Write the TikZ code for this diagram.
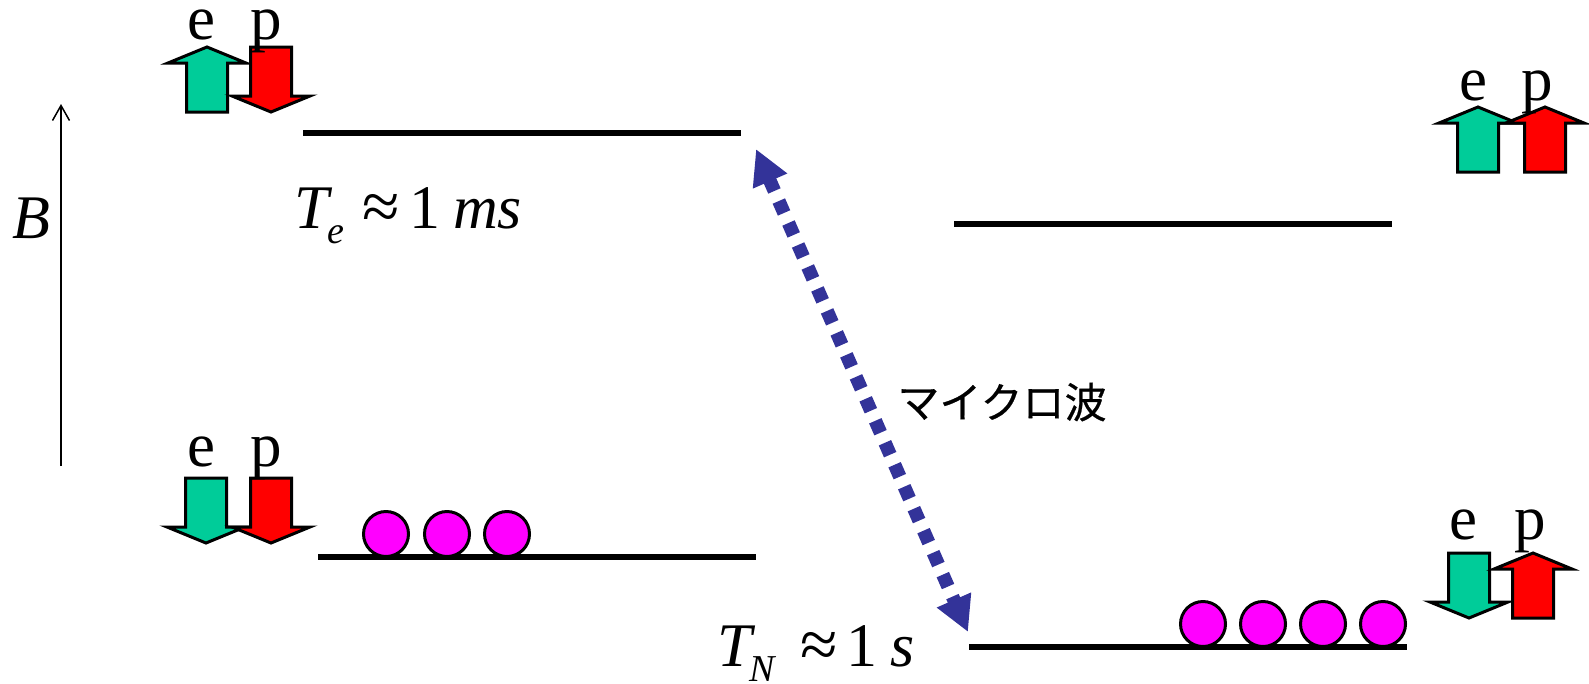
\documentclass[tikz,border=0pt]{standalone}
\usepackage{fontspec}
\setmainfont{Liberation Serif}
\newfontfamily\cjk[FakeBold=0.5]{Noto Sans CJK JP}
\usetikzlibrary{arrows.meta}
\definecolor{spingreen}{HTML}{00CC99}
\definecolor{spinred}{HTML}{FF0000}
\definecolor{dotmag}{HTML}{FF00FF}
\definecolor{waveblue}{HTML}{333399}
\newcommand{\spinup}[3]{\draw[spinarrow,fill=#3] (#1,#2) -- ++(39,16) -- ++(-18.5,0) -- ++(0,49) -- ++(-41,0) -- ++(0,-49) -- ++(-18.5,0) -- cycle;}
\newcommand{\spindown}[3]{\draw[spinarrow,fill=#3] (#1,#2+65) -- ++(39,-16) -- ++(-18.5,0) -- ++(0,-49) -- ++(-41,0) -- ++(0,49) -- ++(-18.5,0) -- cycle;}
\tikzset{
  x=1pt,y=-1pt,
  spinarrow/.style={draw=black,line width=3pt,miter limit=10},
  spinlabel/.style={anchor=base,inner sep=0pt,font=\fontsize{63}{63}\selectfont},
  level/.style={line width=5.5pt},
  ball/.style={circle,draw=black,line width=3pt,fill=dotmag,minimum size=45pt,inner sep=0pt},
  formula/.style={anchor=base west,inner sep=0pt,font=\fontsize{62}{62}\selectfont},
  formulait/.style={formula,font=\fontsize{62}{62}\selectfont\itshape},
  approxsign/.style={anchor=base west,inner sep=0pt,font=\fontsize{68}{68}\selectfont},
  subscript/.style={anchor=base west,inner sep=0pt,font=\fontsize{38}{38}\selectfont\itshape},
}
\begin{document}
\begin{tikzpicture}
\useasboundingbox (0,0) rectangle (1589,683);
% spin arrows
\spinup{207}{47}{spingreen}
\spindown{271}{47}{spinred}
\spinup{1478}{107}{spingreen}
\spinup{1545}{107}{spinred}
\spindown{206}{478}{spingreen}
\spindown{271}{478}{spinred}
\spindown{1469}{553}{spingreen}
\spinup{1533}{553}{spinred}
% spin labels
\node[spinlabel] (e1) at (201,39) {e};
\node[spinlabel] (p1) at (266,39) {p};
\node[spinlabel] (e2) at (1473,100) {e};
\node[spinlabel] (p2) at (1537,100) {p};
\node[spinlabel] (e3) at (201,466) {e};
\node[spinlabel] (p3) at (266,466) {p};
\node[spinlabel] (e4) at (1463,539) {e};
\node[spinlabel] (p4) at (1530,539) {p};
% levels
\coordinate (a1) at (303,133); \coordinate (a2) at (741,133);
\coordinate (b1) at (954,224); \coordinate (b2) at (1392,224);
\coordinate (c1) at (318,557); \coordinate (c2) at (756,557);
\coordinate (d1) at (969,647); \coordinate (d2) at (1407,647);
\draw[level] (a1) -- (a2);
\draw[level] (b1) -- (b2);
\draw[level] (c1) -- (c2);
\draw[level] (d1) -- (d2);
% balls
\node[ball] (n1) at (386,534) {};
\node[ball] (n2) at (447,534) {};
\node[ball] (n3) at (507,534) {};
\node[ball] (m1) at (1203,624) {};
\node[ball] (m2) at (1263,624) {};
\node[ball] (m3) at (1323,624) {};
\node[ball] (m4) at (1383,624) {};
% B axis
\coordinate (bs) at (61,466); \coordinate (be) at (61,104);
\draw[line width=1.5pt,-{Straight Barb[length=15pt,width=17pt,line width=1.5pt]}] (bs) -- (be);
\node[formulait] (B) at (12,238) {B};
% microwave arrow
\coordinate (w1) at (756,149); \coordinate (w2) at (968,632);
\draw[waveblue,line width=13.5pt,dash pattern=on 13pt off 11pt,
  {Triangle[length=35pt,width=35pt,fill=waveblue]}-{Triangle[length=35pt,width=35pt,fill=waveblue]}] (w1) -- (w2);
\node[anchor=center,inner sep=0pt,font=\cjk\fontsize{42}{42}\selectfont] (mw) at (1002,402) {マイクロ波};
% formulas
\node[formulait] (t1) at (294,228) {T};
\node[subscript] (t1s) at (327,243) {e};
\node[approxsign] (t1a) at (362,229) {≈};
\node[formula] (t1b) at (409,228) {1};
\node[formulait] (t1c) at (453,228) {ms};
\node[formulait] (t2) at (717,666) {T};
\node[subscript] (t2s) at (749,681) {N};
\node[approxsign] (t2a) at (800,667) {≈};
\node[formula] (t2b) at (846,666) {1};
\node[formulait] (t2c) at (890,666) {s};
\end{tikzpicture}
\end{document}
